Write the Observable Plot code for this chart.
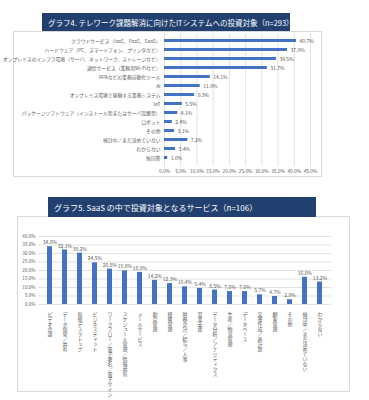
<!DOCTYPE html>
<html><head><meta charset="utf-8">
<script src="https://cdn.jsdelivr.net/npm/d3@7"></script>
<script src="https://cdn.jsdelivr.net/npm/@observablehq/plot@0.6"></script>
<style>
html,body{margin:0;padding:0;background:#fff;}
#root{position:relative;width:369px;height:400px;overflow:hidden;font-family:"Noto Sans CJK JP",sans-serif;}
.panel{position:absolute;border:1px solid #d9d9d9;box-sizing:border-box;}
.title{position:absolute;background:#21406f;color:#fff;box-sizing:border-box;white-space:nowrap;display:flex;align-items:center;}
.plot{position:absolute;}
#p2 text.vt{writing-mode:vertical-rl;}
</style></head>
<body><div id="root">
<div class="panel" style="left:13px;top:31px;width:309px;height:146px"></div>
<div class="title" style="left:42px;top:13px;width:248px;height:18px;padding-left:6px;font-size:7.5px">グラフ4. テレワーク課題解消に向けたITシステムへの投資対象（n=293）</div>
<div class="panel" style="left:17px;top:216px;width:333px;height:176px"></div>
<div class="title" style="left:48px;top:197px;width:268px;height:20px;padding-left:6px;font-size:8px">グラフ5. SaaS の中で投資対象となるサービス（n=106）</div>
<div class="plot" id="p1" style="left:0;top:30px"></div>
<div class="plot" id="p2" style="left:0;top:225px"></div>
</div>
<script>
const cats1 = ["クラウドサービス（IaaS、PaaS、SaaS）","ハードウェア（PC、スマートフォン、プリンタなど）","オンプレミスのインフラ環境（サーバ、ネットワーク、ストレージなど）","通信サービス（業務用Wi-Fiなど）","RPAなどの業務自動化ツール","AI","オンプレミス環境で稼働する業務システム","IoT","パッケージソフトウェア（インストール型またはサーバ設置型）","ロボット","その他","検討中／まだ決めていない","わからない","無回答"];
const vals1 = [40.7,37.9,34.5,31.7,14.1,11.0,9.3,5.5,4.1,2.4,3.1,7.2,3.4,1.0];
const xTicks1 = [0,5,10,15,20,25,30,35,40,45];

const cats2 = ["ビデオ会議","データ保管／共有","仮想デスクトップ","ビジネスチャット","ワークフロー／電子署名／電子サイン","スケジュール管理／情報共有","メールサービス","勤怠管理","経費管理","財務会計／給与／人事","営業支援","データ分析／アナリティクス","生産／物流管理","データベース","文書作成／表計算","顧客管理","その他","検討中／まだ決めていない","わからない"];
const vals2 = [34.0,32.1,30.2,24.5,20.8,19.8,18.9,14.2,12.3,10.4,9.4,8.5,7.6,7.6,5.7,4.7,2.8,16.0,13.2];
const yTicks2 = [0,5,10,15,20,25,30,35,40];

const BLUE = "#4472c4", GRAY = "#595959", GRID = "#d9d9d9";
const pct = d => d.toFixed(1) + "%";
const font = "'Noto Sans CJK JP', sans-serif";

const data1 = cats1.map((c,i)=>({c, v: vals1[i]}));
const p1 = Plot.plot({
  width: 330, height: 150,
  marginLeft: 164, marginRight: 20, marginTop: 3, marginBottom: 14,
  style: {fontFamily: font, fontSize: "4.8px", color: GRAY, background: "transparent", overflow: "visible"},
  x: {domain: [0,45], ticks: xTicks1, tickFormat: pct, tickSize: 0, tickPadding: 3, label: null},
  y: {domain: cats1, paddingInner: 0.62, paddingOuter: 0.31, tickSize: 0, tickPadding: 4, label: null},
  marks: [
    Plot.ruleX(xTicks1, {stroke: GRID, strokeWidth: 0.8}),
    Plot.barX(data1, {x: "v", y: "c", fill: BLUE}),
    Plot.text(data1, {x: "v", y: "c", text: d => pct(d.v), textAnchor: "start", dx: 3, fill: GRAY, fontSize: 5})
  ]
});
document.getElementById("p1").appendChild(p1);

const data2 = cats2.map((c,i)=>({c, v: vals2[i]}));
const p2 = Plot.plot({
  width: 350, height: 172,
  marginLeft: 38, marginRight: 19, marginTop: 11, marginBottom: 93,
  style: {fontFamily: font, fontSize: "4.6px", color: GRAY, background: "transparent", overflow: "visible"},
  y: {domain: [0,40], ticks: yTicks2, tickFormat: pct, tickSize: 0, tickPadding: 3, label: null},
  x: {domain: cats2, paddingInner: 0.67, paddingOuter: 0.355, axis: null},
  marks: [
    Plot.ruleY(yTicks2, {stroke: GRID, strokeWidth: 0.8}),
    Plot.barY(data2, {x: "c", y: "v", fill: BLUE}),
    Plot.text(data2, {x: "c", y: "v", text: d => pct(d.v), dy: -4, fill: GRAY, fontSize: 5}),
    Plot.text(cats2, {x: d => d, y: () => 0, text: d => d, textAnchor: "start", dy: 6, fill: GRAY, fontSize: 5})
  ]
});
document.getElementById("p2").appendChild(p2);
const catSet = new Set(cats2);
d3.select(p2).selectAll("text")
  .filter(function(){ return catSet.has(this.textContent); })
  .attr("dy", null)
  .attr("writing-mode", "tb")
  .classed("vt", true)
  .style("writing-mode", "vertical-rl");
</script>
</body></html>
